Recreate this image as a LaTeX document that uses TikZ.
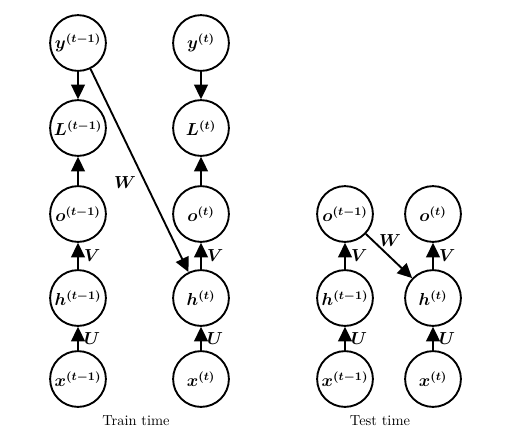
\documentclass[tikz,border=0pt]{standalone}
\usepackage{amsmath}
\usepackage{bm}
\usetikzlibrary{arrows.meta}
\begin{document}
\begin{tikzpicture}[x=0.69pt,y=-0.69pt,
  unit/.style={circle,draw,line width=1.3pt,minimum size=38.5pt,inner sep=0pt,font=\large\boldmath},
  conn/.style={line width=1.3pt,-{Triangle[length=10pt,width=9.5pt]}},
  wlab/.style={font=\large\boldmath,inner sep=1pt},
  slab/.style={font=\large\boldmath,inner sep=0pt,right,xshift=3.5pt},
  captext/.style={inner sep=0pt}]
\useasboundingbox (0,0) rectangle (507,447);
% Train time
\node[unit] (y1) at (78,43) {$y^{(t-1)}$};
\node[unit] (L1) at (78,128) {$L^{(t-1)}$};
\node[unit] (o1) at (78,214) {$o^{(t-1)}$};
\node[unit] (h1) at (78,298) {$h^{(t-1)}$};
\node[unit] (x1) at (78,379) {$x^{(t-1)}$};
\node[unit] (y2) at (201,43) {$y^{(t)}$};
\node[unit] (L2) at (201,128) {$L^{(t)}$};
\node[unit] (o2) at (201,214) {$o^{(t)}$};
\node[unit] (h2) at (201,298) {$h^{(t)}$};
\node[unit] (x2) at (201,379) {$x^{(t)}$};
\draw[conn] (y1) -- (L1);
\draw[conn] (y2) -- (L2);
\draw[conn] (o1) -- (L1);
\draw[conn] (o2) -- (L2);
\draw[conn] (h1) -- node[slab]{$V$} (o1);
\draw[conn] (h2) -- node[slab]{$V$} (o2);
\draw[conn] (x1) -- node[slab]{$U$} (h1);
\draw[conn] (x2) -- node[slab]{$U$} (h2);
\draw[conn] (y1) -- (h2);
\node[wlab] (wtr) at (125,183) {$W$};
\node[captext] (ctr) at (136,421) {Train time};
% Test time
\node[unit] (o3) at (345,214) {$o^{(t-1)}$};
\node[unit] (h3) at (345,298) {$h^{(t-1)}$};
\node[unit] (x3) at (345,379) {$x^{(t-1)}$};
\node[unit] (o4) at (433,214) {$o^{(t)}$};
\node[unit] (h4) at (433,298) {$h^{(t)}$};
\node[unit] (x4) at (433,379) {$x^{(t)}$};
\draw[conn] (h3) -- node[slab]{$V$} (o3);
\draw[conn] (h4) -- node[slab]{$V$} (o4);
\draw[conn] (x3) -- node[slab]{$U$} (h3);
\draw[conn] (x4) -- node[slab]{$U$} (h4);
\draw[conn] (o3) -- (h4);
\node[wlab] (wte) at (390,241) {$W$};
\node[captext] (cte) at (380,421) {Test time};
\end{tikzpicture}
\end{document}
